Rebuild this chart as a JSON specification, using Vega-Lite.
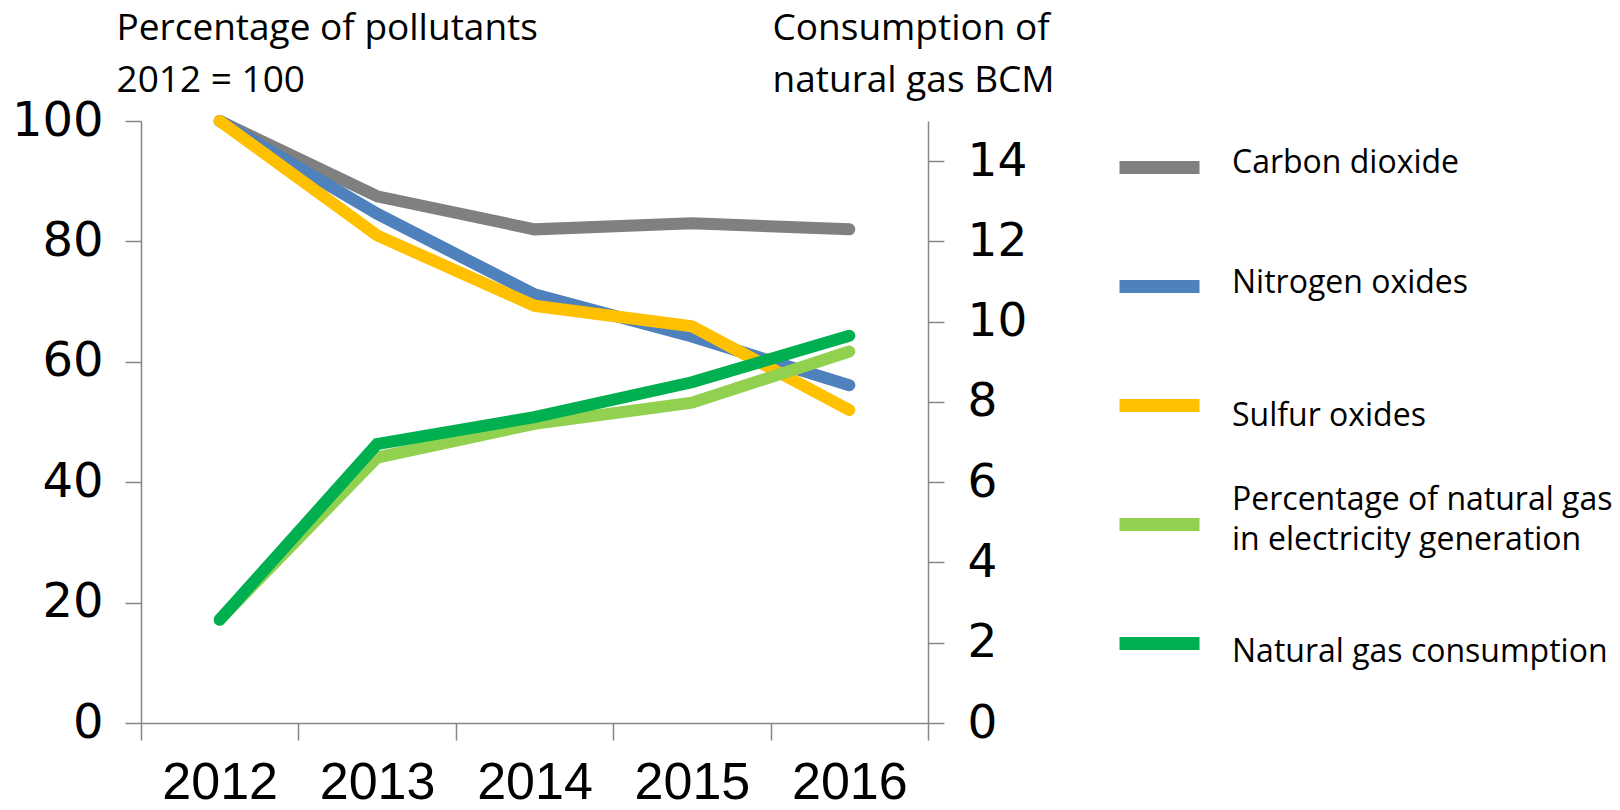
{
  "$schema": "https://vega.github.io/schema/vega-lite/v6.json",
  "width": 787,
  "height": 602,
  "autosize": {"type": "none"},
  "padding": {"left": 141, "top": 121, "right": 692, "bottom": 87},
  "background": "white",
  "config": {
    "view": {"stroke": null},
    "font": "Open Sans",
    "style": {"guide-label": {"lineHeight": 40}}
  },
  "datasets": {
    "pct": [
      {"year": "2012", "series": "Carbon dioxide", "value": 100},
      {"year": "2013", "series": "Carbon dioxide", "value": 87.5},
      {"year": "2014", "series": "Carbon dioxide", "value": 82.0},
      {"year": "2015", "series": "Carbon dioxide", "value": 83.0},
      {"year": "2016", "series": "Carbon dioxide", "value": 82.0},
      {"year": "2012", "series": "Nitrogen oxides", "value": 100},
      {"year": "2013", "series": "Nitrogen oxides", "value": 84.6},
      {"year": "2014", "series": "Nitrogen oxides", "value": 71.2},
      {"year": "2015", "series": "Nitrogen oxides", "value": 64.2},
      {"year": "2016", "series": "Nitrogen oxides", "value": 56.1},
      {"year": "2012", "series": "Sulfur oxides", "value": 100},
      {"year": "2013", "series": "Sulfur oxides", "value": 81.0},
      {"year": "2014", "series": "Sulfur oxides", "value": 69.3},
      {"year": "2015", "series": "Sulfur oxides", "value": 65.9},
      {"year": "2016", "series": "Sulfur oxides", "value": 52.0},
      {"year": "2012", "series": "Percentage of natural gas in electricity generation", "value": 17.2},
      {"year": "2013", "series": "Percentage of natural gas in electricity generation", "value": 44.1},
      {"year": "2014", "series": "Percentage of natural gas in electricity generation", "value": 49.7},
      {"year": "2015", "series": "Percentage of natural gas in electricity generation", "value": 53.2},
      {"year": "2016", "series": "Percentage of natural gas in electricity generation", "value": 61.7}
    ],
    "gas": [
      {"year": "2012", "series": "Natural gas consumption", "value": 2.57},
      {"year": "2013", "series": "Natural gas consumption", "value": 6.95},
      {"year": "2014", "series": "Natural gas consumption", "value": 7.62},
      {"year": "2015", "series": "Natural gas consumption", "value": 8.49},
      {"year": "2016", "series": "Natural gas consumption", "value": 9.65}
    ]
  },
  "layer": [
    {
      "data": {"name": "pct"},
      "mark": {"type": "line", "strokeWidth": 12, "strokeCap": "round"},
      "encoding": {
        "x": {
          "field": "year", "type": "ordinal", "bandPosition": 0.5,
          "scale": {"type": "band", "paddingInner": 0, "paddingOuter": 0},
          "axis": {
            "title": null, "labelAngle": 0, "tickBand": "extent",
            "domainColor": "#868686", "domainWidth": 1.5,
            "tickColor": "#868686", "tickWidth": 1.5, "tickSize": 17,
            "labelFont": "'Liberation Sans Narrow', 'Liberation Sans'", "labelFontSize": 52,
            "labelPadding": 17, "labelColor": "#000"
          }
        },
        "y": {
          "field": "value", "type": "quantitative",
          "scale": {"domain": [0, 100], "nice": false},
          "axis": {
            "orient": "left", "values": [0, 20, 40, 60, 80, 100], "grid": false,
            "domainColor": "#868686", "domainWidth": 1.5,
            "tickColor": "#868686", "tickWidth": 1.5, "tickSize": 16,
            "labelFont": "DejaVu Sans", "labelFontSize": 48, "labelColor": "#000",
            "labelPadding": 22, "labelFlush": false, "labelOverlap": false,
            "title": ["Percentage of pollutants", "2012 = 100"],
            "titleFont": "Open Sans", "titleFontSize": 37, "titleFontWeight": "normal",
            "titleColor": "#000", "titleAngle": 0, "titleAlign": "left",
            "titleBaseline": "alphabetic", "titleX": -25, "titleY": -82, "titleLineHeight": 52
          }
        },
        "color": {
          "field": "series", "type": "nominal",
          "scale": {
            "domain": ["Carbon dioxide", "Nitrogen oxides", "Sulfur oxides", "Percentage of natural gas in electricity generation", "Natural gas consumption"],
            "range": ["#808080", "#4F81BD", "#FFC000", "#92D050", "#00B050"]
          },
          "legend": {
            "orient": "none", "legendX": 972, "legendY": 0, "title": null, "padding": 0,
            "gridAlign": "all",
            "symbolType": "stroke", "symbolSize": 6400, "symbolStrokeWidth": 13,
            "labelFont": "Open Sans", "labelFontSize": 32, "labelColor": "#000",
            "labelOffset": 26, "rowPadding": 41, "labelLimit": 600,
            "labelExpr": "datum.label == 'Percentage of natural gas in electricity generation' ? ['Percentage of natural gas', 'in electricity generation'] : datum.label",
            "encode": {
              "labels": {
                "update": {
                  "dy": {"signal": "datum.value == 'Carbon dioxide' ? -5 : datum.value == 'Nitrogen oxides' ? -4 : datum.value == 'Sulfur oxides' ? 10 : datum.value == 'Natural gas consumption' ? 8 : -25"}
                }
              }
            }
          }
        }
      }
    },
    {
      "data": {"name": "gas"},
      "mark": {"type": "line", "strokeWidth": 12, "strokeCap": "round"},
      "encoding": {
        "x": {"field": "year", "type": "ordinal", "bandPosition": 0.5},
        "y": {
          "field": "value", "type": "quantitative",
          "scale": {"domain": [0, 15], "nice": false},
          "axis": {
            "orient": "right", "values": [0, 2, 4, 6, 8, 10, 12, 14], "grid": false,
            "domainColor": "#868686", "domainWidth": 1.5,
            "tickColor": "#868686", "tickWidth": 1.5, "tickSize": 16,
            "labelFont": "DejaVu Sans", "labelFontSize": 47, "labelColor": "#000",
            "labelPadding": 23, "labelFlush": false, "labelOverlap": false,
            "title": ["Consumption of", "natural gas BCM"],
            "titleFont": "Open Sans", "titleFontSize": 37, "titleFontWeight": "normal",
            "titleColor": "#000", "titleAngle": 0, "titleAlign": "left",
            "titleBaseline": "alphabetic", "titleX": -156, "titleY": -82, "titleLineHeight": 52
          }
        },
        "color": {"field": "series", "type": "nominal"}
      }
    }
  ],
  "resolve": {"scale": {"y": "independent"}}
}
